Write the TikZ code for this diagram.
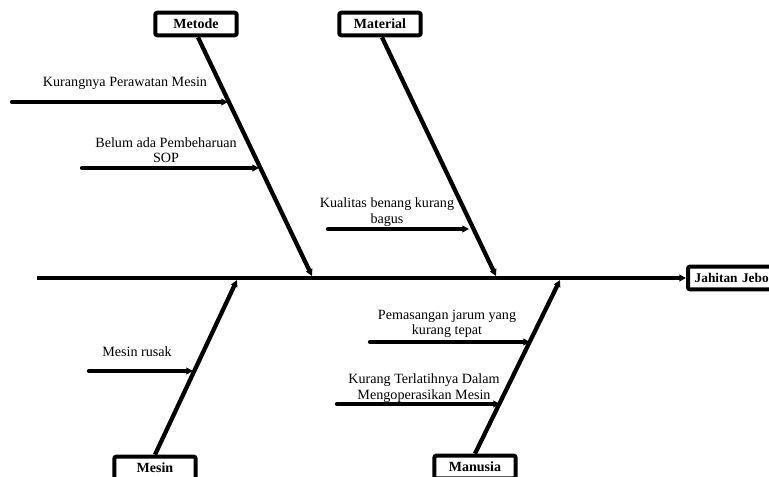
\documentclass[tikz,border=0pt]{standalone}
\usepackage{fontspec}
\setmainfont{Liberation Serif}
\usetikzlibrary{arrows.meta}

\begin{document}
\begin{tikzpicture}[x=0.75pt,y=-0.75pt,
    kategori/.style={draw,line width=3pt,rounded corners=1.5pt,font=\bfseries\fontsize{10.5}{12}\selectfont,minimum width=61pt,minimum height=17pt,inner sep=1pt},
    tulang/.style={line width=3.2pt,-{Triangle[length=5pt,width=5pt]}},
    sebab/.style={line width=3.2pt,line cap=round,-{Triangle[length=5pt,width=5pt]}},
    ket/.style={font=\fontsize{10.6}{11.5}\selectfont,align=center,inner sep=0pt}]
    \useasboundingbox (0,0) rectangle (769,477);
    \clip (0,0) rectangle (769,477);

    % kategori
    \node[kategori] (metode) at (196,24) {Metode};
    \node[kategori] (material) at (380,24) {Material};
    \node[kategori] (mesin) at (155,468) {Mesin};
    \node[kategori] (manusia) at (475,467) {Manusia};
    \node[kategori,anchor=west,minimum width=90pt,text width=80pt,align=left,
          font=\bfseries\fontsize{10}{12}\selectfont] (akibat) at (686,278) {Jahitan Jebo};

    % tulang utama
    \coordinate (ekor) at (37,278);
    \draw[tulang] (ekor) -- (akibat.west);

    % tulang kategori
    \coordinate (t1) at (312,276);
    \coordinate (t2) at (496,276);
    \coordinate (t3) at (237,280);
    \coordinate (t4) at (560,280);
    \draw[tulang] (metode.south) ++(2,0) coordinate (m0) -- (t1);
    \draw[tulang] (material.south) ++(2,0) coordinate (a0) -- (t2);
    \draw[tulang] (mesin.north) -- (t3);
    \draw[tulang] (manusia.north) -- (t4);

    % sebab
    \coordinate (s1) at (12,102);
    \coordinate (e1) at (228,102);
    \draw[sebab] (s1) -- (e1);
    \node[ket] (k1) at (125,83) {Kurangnya Perawatan Mesin};

    \coordinate (s2) at (82,168);
    \coordinate (e2) at (259,168);
    \draw[sebab] (s2) -- (e2);
    \node[ket] (k2) at (166,150) {Belum ada Pembeharuan\\SOP};

    \coordinate (s3) at (328,229);
    \coordinate (e3) at (469,229);
    \draw[sebab] (s3) -- (e3);
    \node[ket] (k3) at (387,212) {Kualitas benang kurang\\bagus};

    \coordinate (s4) at (89,371);
    \coordinate (e4) at (193,371);
    \draw[sebab] (s4) -- (e4);
    \node[ket] (k4) at (137,352) {Mesin rusak};

    \coordinate (s5) at (370,342);
    \coordinate (e5) at (530,342);
    \draw[sebab] (s5) -- (e5);
    \node[ket] (k5) at (447,324) {Pemasangan jarum yang\\kurang tepat};

    \coordinate (s6) at (337,404);
    \coordinate (e6) at (500,404);
    \draw[sebab] (s6) -- (e6);
    \node[ket] (k6) at (424,388) {Kurang Terlatihnya Dalam\\Mengoperasikan Mesin};
\end{tikzpicture}
\end{document}
